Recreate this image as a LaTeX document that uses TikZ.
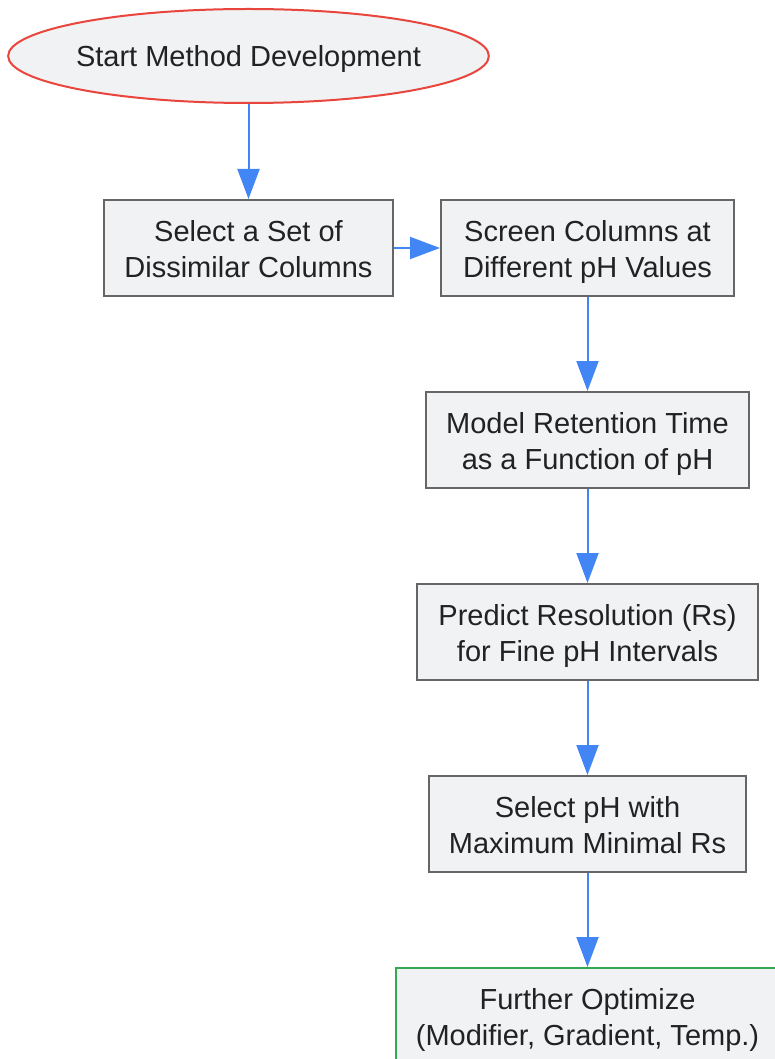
\documentclass[tikz,border=0pt]{standalone}
\usepackage{fontspec}
\setmainfont{Liberation Sans}
\usetikzlibrary{shapes.geometric,arrows.meta}
\definecolor{boxfill}{HTML}{F1F2F4}
\definecolor{boxline}{HTML}{666666}
\definecolor{startline}{HTML}{E8453C}
\definecolor{endline}{HTML}{34A853}
\definecolor{arrowblue}{HTML}{4285F4}
\definecolor{txt}{HTML}{222222}
\tikzset{
  stepbox/.style={draw=boxline, line width=2pt, fill=boxfill, rectangle, inner sep=0pt, align=center, text=txt, font=\fontsize{29}{36}\selectfont, text height=64.8pt, text depth=6pt},
  startnode/.style={draw=startline, line width=2pt, fill=boxfill, ellipse, inner ysep=0pt, inner xsep=-2.5pt, text=txt, font=\fontsize{29}{36}\selectfont, text height=26.8pt, text depth=6pt},
  endbox/.style={stepbox, draw=endline},
  flow/.style={draw=arrowblue, line width=2pt, -{Triangle[length=30pt,width=22pt]}}
}
\begin{document}
\begin{tikzpicture}[x=1pt,y=-1pt]
\useasboundingbox (0,0) rectangle (774,1059);
\node[startnode, minimum width=480pt, minimum height=94pt] (start) at (248.5,56) {Start Method Development};
\node[stepbox, minimum width=289pt, minimum height=96pt] (sel) at (248.5,248) {Select a Set of\\Dissimilar Columns};
\node[stepbox, minimum width=293pt, minimum height=96pt] (scr) at (587.5,248) {Screen Columns at\\Different pH Values};
\node[stepbox, minimum width=323pt, minimum height=96pt] (mod) at (587.5,440) {Model Retention Time\\as a Function of pH};
\node[stepbox, minimum width=341pt, minimum height=96pt] (pre) at (587.5,632) {Predict Resolution (Rs)\\for Fine pH Intervals};
\node[stepbox, minimum width=317pt, minimum height=96pt] (sph) at (587.5,824) {Select pH with\\Maximum Minimal Rs};
\node[endbox, minimum width=383pt, minimum height=96pt] (fur) at (587.5,1016) {Further Optimize\\(Modifier, Gradient, Temp.)};
\draw[flow] (start) -- (sel);
\draw[flow] (sel) -- (scr);
\draw[flow] (scr) -- (mod);
\draw[flow] (mod) -- (pre);
\draw[flow] (pre) -- (sph);
\draw[flow] (sph) -- (fur);
\end{tikzpicture}
\end{document}
